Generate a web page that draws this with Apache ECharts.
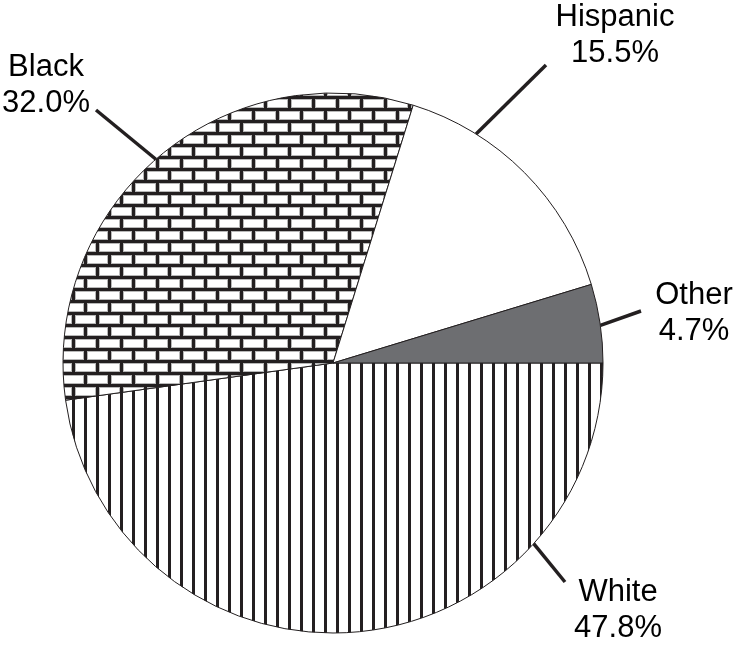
<!DOCTYPE html>
<html>
<head>
<meta charset="utf-8">
<script src="https://cdn.jsdelivr.net/npm/echarts@6/dist/echarts.min.js"></script>
<style>
  html, body { margin: 0; padding: 0; background: #fff; }
  #chart { width: 736px; height: 647px; }
</style>
</head>
<body>
<div id="chart"></div>
<script>
// data
var groups = ["White", "Black", "Hispanic", "Other"];
var shares = [47.8, 32.0, 15.5, 4.7];

// layout of the pie and of the call-out labels (angle clockwise from 3 o'clock)
var pieCenter = [333, 363];
var pieRadius = 270;
var labelAnchorAngle = [42, 229, 302, 352];
var labelLineEnd = [[565, 582], [96, 110], [546, 65], [641, 311]];
var labelTextPos = [[618, 610], [46, 85], [615, 35], [694, 313]];

var ink = "#231f20";

// vertical stripes
function stripePattern() {
  var c = document.createElement("canvas");
  c.width = 12; c.height = 12;
  var g = c.getContext("2d");
  g.fillStyle = "#fff";
  g.fillRect(0, 0, 12, 12);
  g.fillStyle = ink;
  g.fillRect(0, 0, 3, 12);
  return { image: c, repeat: "repeat" };
}

// brick wall
function brickPattern() {
  var w = 24, h = 12, m = 3;
  var c = document.createElement("canvas");
  c.width = w; c.height = h * 2;
  var g = c.getContext("2d");
  g.fillStyle = ink;
  g.fillRect(0, 0, w, h * 2);
  function brick(x, y, bw) {
    g.fillStyle = "#b8b8b8";
    g.fillRect(x, y, bw, h - m);
    g.fillStyle = "#fff";
    g.fillRect(x + 1, y + 1, bw - 2, h - m - 2);
  }
  brick(m, m, w - m);
  brick(12 + m, h + m, w - m);
  brick(12 + m - w, h + m, w - m);
  return { image: c, repeat: "repeat" };
}

var fills = [stripePattern(), brickPattern(), "#ffffff", "#6d6e71"];

var chart = echarts.init(document.getElementById("chart"), null, { renderer: "canvas" });

var pieData = groups.map(function (name, i) {
  return { name: name, value: shares[i], itemStyle: { color: fills[i] } };
});

chart.setOption({
  animation: false,
  backgroundColor: "#fff",
  series: [
    {
      type: "pie",
      center: pieCenter,
      radius: pieRadius,
      startAngle: 0,
      clockwise: true,
      data: pieData,
      emphasis: { disabled: true },
      itemStyle: { borderColor: ink, borderWidth: 1 },
      label: {
        show: true,
        position: "outside",
        formatter: function (p) {
          return p.name + "\n" + p.value.toFixed(1) + "%";
        },
        fontFamily: "Liberation Sans, Arial, sans-serif",
        fontSize: 31,
        lineHeight: 36,
        color: "#000",
        align: "center"
      },
      labelLine: {
        show: true,
        length: 10,
        length2: 10,
        lineStyle: { color: ink, width: 3.5 }
      },
      labelLayout: function (params) {
        var i = params.dataIndex;
        var a = labelAnchorAngle[i] * Math.PI / 180;
        var start = [pieCenter[0] + pieRadius * Math.cos(a), pieCenter[1] + pieRadius * Math.sin(a)];
        var end = labelLineEnd[i];
        return {
          x: labelTextPos[i][0],
          y: labelTextPos[i][1],
          align: "center",
          verticalAlign: "middle",
          labelLinePoints: [start, end, end]
        };
      }
    }
  ]
});
</script>
</body>
</html>
